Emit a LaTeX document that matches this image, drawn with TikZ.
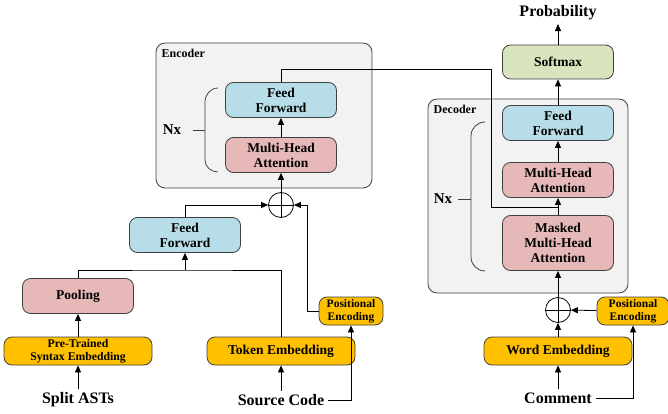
\documentclass[tikz,border=0pt]{standalone}
\usepackage{fontspec}
\setmainfont{Liberation Serif}
\usepackage{xcolor}
\usepackage{tikz}
\usetikzlibrary{positioning,arrows.meta}

\definecolor{ffblue}{HTML}{B7DDE8}
\definecolor{attred}{HTML}{E6B9B8}
\definecolor{embgold}{HTML}{FFC000}
\definecolor{smgreen}{HTML}{D7E4BD}
\definecolor{panelgray}{HTML}{F2F2F2}

\tikzset{
  block/.style={draw=black!75, rounded corners=8pt, align=center, font=\bfseries\fontsize{13.5}{15}\selectfont, inner sep=1pt},
  ffbox/.style={block, fill=ffblue, minimum width=111pt, minimum height=35pt},
  attbox/.style={block, fill=attred, minimum width=111pt, minimum height=35pt},
  embbox/.style={block, fill=embgold, minimum width=148pt, minimum height=28pt},
  posbox/.style={block, fill=embgold, minimum width=64pt, minimum height=28pt, font=\bfseries\fontsize{11.5}{13}\selectfont},
  panel/.style={draw=black!75, fill=panelgray, rounded corners=9pt},
  addnode/.style={draw, circle, minimum size=25pt, inner sep=0pt},
  io/.style={font=\bfseries\fontsize{16}{18}\selectfont},
  wire/.style={draw=black!75, line width=0.8pt}
}

\begin{document}
\begin{tikzpicture}[x=1pt, y=-1pt, >={Triangle[length=7pt,width=6pt]}, line width=0.8pt]
\useasboundingbox (0,0) rectangle (668,414);

% panels
\draw[panel] (156,43) rectangle (372,188);
\node[anchor=north west, font=\bfseries\fontsize{12}{13}\selectfont] (enclabel) at (158,45) {Encoder};
\draw[panel] (428,99) rectangle (628,293);
\node[anchor=north west, font=\bfseries\fontsize{12}{13}\selectfont] (declabel) at (430,101) {Decoder};

% encoder stack
\node[ffbox] (encFF) at (281,100) {Feed\\Forward};
\node[attbox] (encMHA) at (281,155) {Multi-Head\\Attention};
\node[addnode] (encAdd) at (281,205) {};
\draw (encAdd.north) -- (encAdd.south) (encAdd.west) -- (encAdd.east);

% encoder inputs
\node[ffbox] (synFF) at (185,235) {Feed\\Forward};
\node[attbox] (pool) at (78,296) {Pooling};
\node[embbox, font=\bfseries\fontsize{11.7}{13}\selectfont] (syn) at (78,351) {Pre-Trained\\Syntax Embedding};
\node[embbox, font=\bfseries\fontsize{13.5}{15}\selectfont] (tok) at (281,351) {Token Embedding};
\node[posbox] (encPos) at (351,311) {Positional\\Encoding};
\node[io] (asts) at (78,400) {Split ASTs};
\node[io] (src) at (281,400) {Source Code};

% decoder stack
\node[block, fill=smgreen, minimum width=111pt, minimum height=34pt] (soft) at (558,62) {Softmax};
\node[io] (prob) at (558,13) {Probability};
\node[ffbox] (decFF) at (558,123) {Feed\\Forward};
\node[attbox] (decMHA) at (558,180) {Multi-Head\\Attention};
\node[attbox, minimum height=55pt] (mask) at (558,243) {Masked\\Multi-Head\\Attention};
\node[addnode] (decAdd) at (558,310) {};
\draw (decAdd.north) -- (decAdd.south) (decAdd.west) -- (decAdd.east);
\node[embbox, font=\bfseries\fontsize{13.5}{15}\selectfont] (word) at (558,351) {Word Embedding};
\node[posbox, minimum width=72pt] (decPos) at (633,311) {Positional\\Encoding};
\node[io] (cmt) at (558,398) {Comment};

% Nx braces
\node[font=\bfseries\fontsize{15}{17}\selectfont] (encNx) at (172,130) {Nx};
\draw[wire] (218,88) to[out=180,in=90] (205,102) -- (205,160) to[out=-90,in=180] (218,172);
\draw[wire] (193,130) -- (205,130);
\node[font=\bfseries\fontsize{15}{17}\selectfont] (decNx) at (443,199) {Nx};
\draw[wire] (485,122) to[out=180,in=90] (471,136) -- (471,257) to[out=-90,in=180] (485,271);
\draw[wire] (458,199) -- (471,199);

% encoder arrows
\draw[->] (encAdd) -- (encMHA);
\draw[->] (encMHA) -- (encFF);
\draw[->] (synFF.north) |- (encAdd.west);
\draw[->] (encPos.west) -| (307,205) -- (encAdd.east);
\draw[->] (syn) -- (pool);
\draw[->] (asts) -- (syn);
\draw[->] (src) -- (tok);
\draw[->] (src.east) -| (encPos.south);
\coordinate (join) at (185,270);
\draw (pool.north) |- (join) -| (tok.north);
\draw[->] (join) -- (synFF);

% decoder arrows
\draw[->] (cmt) -- (word);
\draw[->] (word) -- (decAdd);
\draw[->] (decPos) -- (decAdd);
\draw[->] (cmt.east) -| (decPos.south);
\draw[->] (decAdd) -- (mask);
\draw[->] (mask) -- (decMHA);
\draw[->] (decMHA) -- (decFF);
\draw[->] (decFF) -- (soft);
\draw[->] (soft) -- (prob);

% encoder output into decoder
\draw (encFF.north) |- (491,69) -- (491,207) -- (558,207);
\end{tikzpicture}
\end{document}
